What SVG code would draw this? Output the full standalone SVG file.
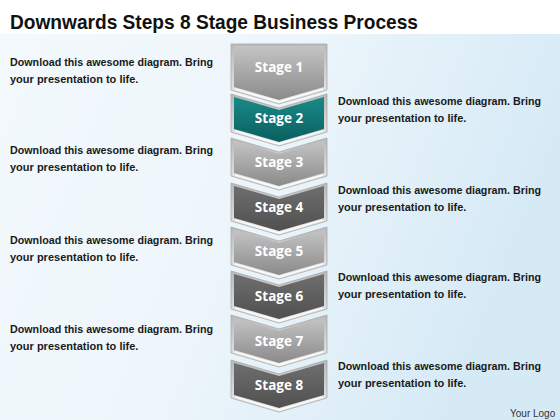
<svg xmlns="http://www.w3.org/2000/svg" width="560" height="420" viewBox="0 0 560 420">
<defs>
<linearGradient id="bg" x1="0" y1="0" x2="1" y2="0.3">
<stop offset="0" stop-color="#f3f9fd"/>
<stop offset="0.5" stop-color="#eef6fb"/>
<stop offset="1" stop-color="#d6eaf6"/>
</linearGradient>
<linearGradient id="light" x1="0" y1="0" x2="0" y2="1">
<stop offset="0" stop-color="#c4c4c4"/>
<stop offset="1" stop-color="#8a8a8a"/>
</linearGradient>
<linearGradient id="dark" x1="0" y1="0" x2="0" y2="1">
<stop offset="0" stop-color="#6e6e6e"/>
<stop offset="1" stop-color="#505050"/>
</linearGradient>
<linearGradient id="teal" x1="0" y1="0" x2="0" y2="1">
<stop offset="0" stop-color="#1a8a88"/>
<stop offset="1" stop-color="#0a5f5f"/>
</linearGradient>
<linearGradient id="rim" x1="0" y1="0" x2="0" y2="1">
<stop offset="0" stop-color="#b8b8b8"/>
<stop offset="1" stop-color="#eeeeee"/>
</linearGradient>
</defs>
<style>
.title{font-family:"Liberation Sans",Arial,sans-serif;font-weight:bold;font-size:21px;fill:#111}
.desc{font-family:"Liberation Sans",Arial,sans-serif;font-weight:bold;font-size:11px;fill:#1a1a1a}
.lbl{font-family:"Open Sans","Liberation Sans",sans-serif;font-weight:bold;font-size:13.5px;fill:#ffffff;text-anchor:middle}
.rim{fill:url(#rim);stroke:#a9a9a9;stroke-width:0.8}
.hl{fill:none;stroke:#ffffff;stroke-width:1.5;opacity:0.85}
.logo{font-family:"Liberation Sans",Arial,sans-serif;font-size:10px;fill:#333}
</style>
<rect x="0" y="0" width="560" height="420" fill="url(#bg)"/>
<rect x="0" y="0" width="560" height="34" fill="#ffffff"/>
<text class="title" x="10" y="29" textLength="408" lengthAdjust="spacingAndGlyphs">Downwards Steps 8 Stage Business Process</text>

<g id="stage1">
<path class="rim" d="M231,44 L327,44 L327,90 L279,104 L231,90 Z"/>
<path d="M234,46 L324,46 L324,87 L279,100 L234,87 Z" fill="url(#light)"/>
<path class="hl" d="M235,89 L279,102 L323,89"/>
<text class="lbl" x="279" y="72">Stage 1</text>
</g>
<g id="stage2">
<path class="rim" d="M231,94 L279,108 L327,94 L327,132 L279,146 L231,132 Z"/>
<path d="M234,97 L279,110 L324,97 L324,129 L279,142 L234,129 Z" fill="url(#teal)"/>
<path class="hl" d="M235,131 L279,144 L323,131"/>
<text class="lbl" x="279" y="123">Stage 2</text>
</g>
<g id="stage3">
<path class="rim" d="M231,138 L279,152 L327,138 L327,176 L279,190 L231,176 Z"/>
<path d="M234,141 L279,154 L324,141 L324,173 L279,186 L234,173 Z" fill="url(#light)"/>
<path class="hl" d="M235,175 L279,188 L323,175"/>
<text class="lbl" x="279" y="167">Stage 3</text>
</g>
<g id="stage4">
<path class="rim" d="M231,183 L279,197 L327,183 L327,221 L279,235 L231,221 Z"/>
<path d="M234,186 L279,199 L324,186 L324,218 L279,231 L234,218 Z" fill="url(#dark)"/>
<path class="hl" d="M235,220 L279,233 L323,220"/>
<text class="lbl" x="279" y="212">Stage 4</text>
</g>
<g id="stage5">
<path class="rim" d="M231,227 L279,241 L327,227 L327,265 L279,279 L231,265 Z"/>
<path d="M234,230 L279,243 L324,230 L324,262 L279,275 L234,262 Z" fill="url(#light)"/>
<path class="hl" d="M235,264 L279,277 L323,264"/>
<text class="lbl" x="279" y="256">Stage 5</text>
</g>
<g id="stage6">
<path class="rim" d="M231,271 L279,285 L327,271 L327,309 L279,323 L231,309 Z"/>
<path d="M234,274 L279,287 L324,274 L324,306 L279,319 L234,306 Z" fill="url(#dark)"/>
<path class="hl" d="M235,308 L279,321 L323,308"/>
<text class="lbl" x="279" y="301">Stage 6</text>
</g>
<g id="stage7">
<path class="rim" d="M231,315 L279,329 L327,315 L327,353 L279,367 L231,353 Z"/>
<path d="M234,318 L279,331 L324,318 L324,350 L279,363 L234,350 Z" fill="url(#light)"/>
<path class="hl" d="M235,352 L279,365 L323,352"/>
<text class="lbl" x="279" y="346">Stage 7</text>
</g>
<g id="stage8">
<path class="rim" d="M231,360 L279,374 L327,360 L327,398 L279,412 L231,398 Z"/>
<path d="M234,363 L279,376 L324,363 L324,395 L279,408 L234,395 Z" fill="url(#dark)"/>
<path class="hl" d="M235,397 L279,410 L323,397"/>
<text class="lbl" x="279" y="390">Stage 8</text>
</g>

<g id="text1"><text class="desc" x="10" y="66" textLength="203" lengthAdjust="spacingAndGlyphs">Download this awesome diagram. Bring</text><text class="desc" x="10" y="83">your presentation to life.</text></g>
<g id="text2"><text class="desc" x="338" y="105" textLength="203" lengthAdjust="spacingAndGlyphs">Download this awesome diagram. Bring</text><text class="desc" x="338" y="122">your presentation to life.</text></g>
<g id="text3"><text class="desc" x="10" y="154" textLength="203" lengthAdjust="spacingAndGlyphs">Download this awesome diagram. Bring</text><text class="desc" x="10" y="171">your presentation to life.</text></g>
<g id="text4"><text class="desc" x="338" y="194" textLength="203" lengthAdjust="spacingAndGlyphs">Download this awesome diagram. Bring</text><text class="desc" x="338" y="211">your presentation to life.</text></g>
<g id="text5"><text class="desc" x="10" y="244" textLength="203" lengthAdjust="spacingAndGlyphs">Download this awesome diagram. Bring</text><text class="desc" x="10" y="261">your presentation to life.</text></g>
<g id="text6"><text class="desc" x="338" y="281" textLength="203" lengthAdjust="spacingAndGlyphs">Download this awesome diagram. Bring</text><text class="desc" x="338" y="298">your presentation to life.</text></g>
<g id="text7"><text class="desc" x="10" y="333" textLength="203" lengthAdjust="spacingAndGlyphs">Download this awesome diagram. Bring</text><text class="desc" x="10" y="350">your presentation to life.</text></g>
<g id="text8"><text class="desc" x="338" y="370" textLength="203" lengthAdjust="spacingAndGlyphs">Download this awesome diagram. Bring</text><text class="desc" x="338" y="387">your presentation to life.</text></g>

<text class="logo" x="510" y="417">Your Logo</text>
</svg>
